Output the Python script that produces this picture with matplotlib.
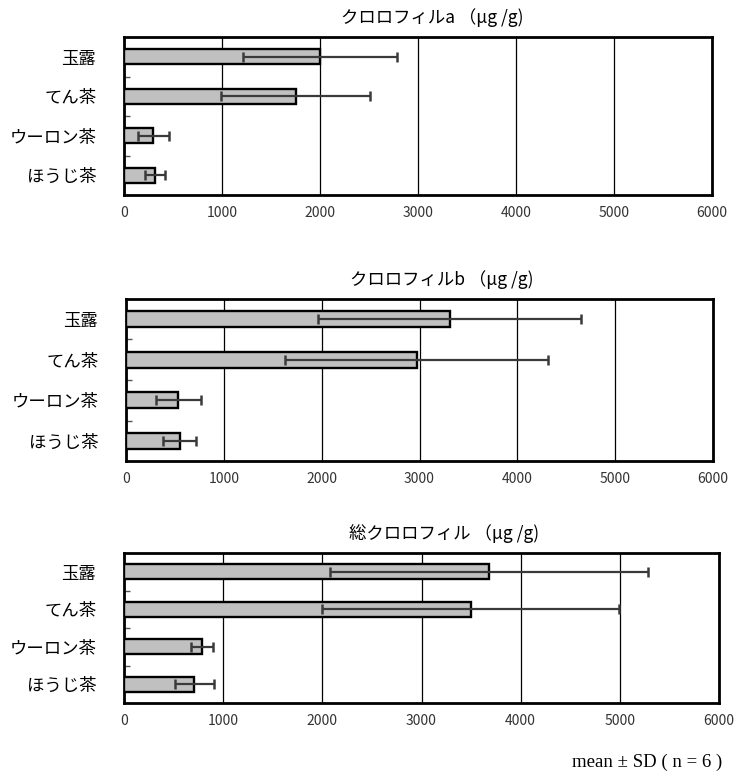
import matplotlib
matplotlib.use("Agg")
import matplotlib.pyplot as plt
import numpy as np

plt.rcParams['font.family'] = ['Noto Sans CJK JP', 'DejaVu Sans']

categories = ["玉露", "てん茶", "ウーロン茶", "ほうじ茶"]

titles = ["クロロフィルa （μg /g)", "クロロフィルb （μg /g)", "総クロロフィル （μg /g)"]

chl_a_mean = [2000, 1750, 300, 315]
chl_a_sd = [790, 765, 155, 105]

chl_b_mean = [3310, 2970, 535, 550]
chl_b_sd = [1345, 1340, 228, 170]

total_mean = [3680, 3495, 790, 710]
total_sd = [1600, 1500, 112, 200]

xticks = [0, 1000, 2000, 3000, 4000, 5000, 6000]
footnote = "mean ± SD ( n = 6 )"

W, H = 738, 775
fig = plt.figure(figsize=(W / 100, H / 100), dpi=100)

# axes boxes in pixel coords: left, right, top, bottom
boxes = [(124, 712, 37, 195), (126, 713, 299, 461), (124, 719, 553, 703)]
title_x = [432, 442, 444]

series = [(chl_a_mean, chl_a_sd), (chl_b_mean, chl_b_sd), (total_mean, total_sd)]

for (l, r, t, b), ttl, tx, (m, s) in zip(boxes, titles, title_x, series):
    ax = fig.add_axes([l / W, 1 - b / H, (r - l) / W, (b - t) / H])
    y = np.arange(len(categories))
    ax.barh(y, m, height=0.39, color='#c0c0c0', edgecolor='black', linewidth=1.7, zorder=3)
    ax.errorbar(m, y, xerr=s, fmt='none', ecolor='#3a3a3a', elinewidth=1.6,
                capsize=3.4, capthick=1.8, zorder=4)
    ax.set_xlim(0, 6000)
    ax.set_ylim(len(categories) - 0.5, -0.5)
    ax.set_xticks(xticks)
    ax.set_xticklabels([str(v) for v in xticks], fontsize=10, color='#333333')
    ax.tick_params(axis='x', length=0, pad=8)
    ax.set_yticks(y)
    ax.set_yticklabels(categories, fontsize=12.5)
    ax.tick_params(axis='y', which='major', length=0, pad=20)
    ax.set_yticks([0.5, 1.5, 2.5], minor=True)
    ax.tick_params(axis='y', which='minor', direction='in', length=4, width=1, color='#555555')
    ax.grid(axis='x', color='black', linewidth=0.9, zorder=0)
    for sp in ax.spines.values():
        sp.set_linewidth(2)
        sp.set_color('black')
    fig.text(tx / W, 1 - (t - 19) / H, ttl, ha='center', va='center', fontsize=12.5)

fig.text(722 / W, 1 - 762 / H, footnote, ha='right', va='center',
         fontsize=13.5, family='Liberation Serif')

fig.savefig('out.png', dpi=100)
